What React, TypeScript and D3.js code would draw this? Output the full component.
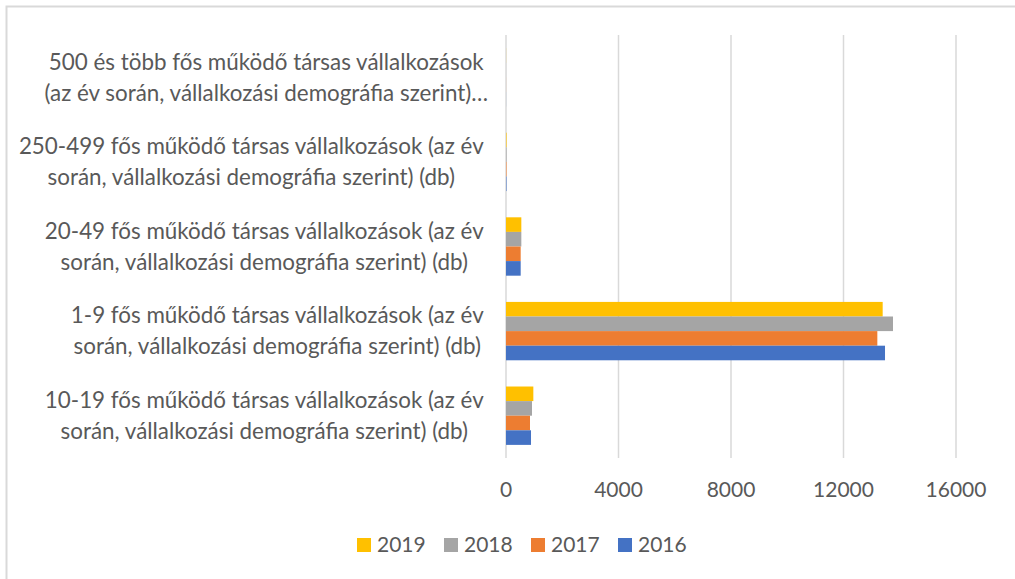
import React from 'react';
import * as d3 from 'd3';

const width = 1015;
const height = 579;

// categories bottom -> top, each label split in the two lines Excel shows
const categories = ['10-19', '1-9', '20-49', '250-499', '500+'];
const labelLines = [
  ['10-19 fős működő társas vállalkozások (az év', 'során, vállalkozási demográfia szerint) (db)'],
  ['1-9 fős működő társas vállalkozások (az év', 'során, vállalkozási demográfia szerint) (db)'],
  ['20-49 fős működő társas vállalkozások (az év', 'során, vállalkozási demográfia szerint) (db)'],
  ['250-499 fős működő társas vállalkozások (az év', 'során, vállalkozási demográfia szerint) (db)'],
  ['500 és több fős működő társas vállalkozások', '(az év során, vállalkozási demográfia szerint)…'],
];

const years = ['2019', '2018', '2017', '2016'];
const values2016 = [889, 13476, 522, 18, 2];
const values2017 = [853, 13203, 522, 18, 2];
const values2018 = [924, 13760, 545, 20, 2];
const values2019 = [972, 13393, 545, 20, 3];
const seriesValues = { '2016': values2016, '2017': values2017, '2018': values2018, '2019': values2019 };
const colors = { '2019': '#FFC000', '2018': '#A5A5A5', '2017': '#ED7D31', '2016': '#4472C4' };
const xTicks = [0, 4000, 8000, 12000, 16000];

const font = 'Lato, "Liberation Sans", sans-serif';
const fontSize = 21;
const labelSize = 22.4;
const textColor = '#595959';
const gridColor = '#D9D9D9';

const plot = { left: 506, right: 956, top: 35, bottom: 458 };
const labelRight = 484;

let ctx: CanvasRenderingContext2D | null = null;
const measure = (s: string) => {
  if (!ctx) ctx = document.createElement('canvas').getContext('2d');
  if (!ctx) return s.length * 10;
  ctx.font = `${labelSize}px ${font}`;
  return ctx.measureText(s.replace(/…$/, '')).width;
};

const App = () => {
  const x = d3.scaleLinear().domain([0, 16000]).range([plot.left, plot.right]);
  const y = d3.scaleBand()
    .domain(categories)
    .range([plot.bottom, plot.top])
    .paddingInner(0.31)
    .paddingOuter(0.155);
  const yInner = d3.scaleBand().domain(years).range([0, y.bandwidth()]);

  const legendX = d3.scalePoint().domain(years).range([357, 618]);

  return (
    <svg width={width} height={height} style={{ position: 'absolute', left: 0, top: 0, display: 'block' }}
      fontFamily={font}>
      <rect x={0} y={0} width={width} height={height} fill="#fff" />
      <rect x={6.5} y={6.5} width={width + 10} height={height + 10} fill="none" stroke={gridColor} strokeWidth={2} />

      {xTicks.map(t => (
        <g key={t}>
          <line x1={x(t)} x2={x(t)} y1={plot.top} y2={plot.bottom} stroke={gridColor} strokeWidth={1.5} />
          <text x={x(t)} y={497} textAnchor="middle" fontSize={fontSize} fill={textColor}>{t}</text>
        </g>
      ))}

      {categories.map((c, i) => {
        const cy = (y(c) as number) + y.bandwidth() / 2;
        const lines = labelLines[i];
        const blockW = Math.max(...lines.map(measure));
        const cx = labelRight - blockW / 2;
        return (
          <g key={c}>
            {years.map(yr => (
              <rect key={yr}
                x={x(0)}
                y={(y(c) as number) + (yInner(yr) as number)}
                width={x(seriesValues[yr][i]) - x(0)}
                height={yInner.bandwidth()}
                fill={colors[yr]} />
            ))}
            {lines.map((l, j) => (
              <text key={j} x={cx} y={cy + (j === 0 ? -15.5 : 15.5)} dy="0.35em"
                textAnchor="middle" fontSize={labelSize} fill={textColor}>{l}</text>
            ))}
          </g>
        );
      })}

      {years.map(yr => (
        <g key={yr} transform={`translate(${legendX(yr)}, 545)`}>
          <rect x={0} y={-7} width={14} height={14} fill={colors[yr]} />
          <text x={20} y={0} dy="0.35em" fontSize={fontSize} fill={textColor}>{yr}</text>
        </g>
      ))}
    </svg>
  );
};

export default App;
